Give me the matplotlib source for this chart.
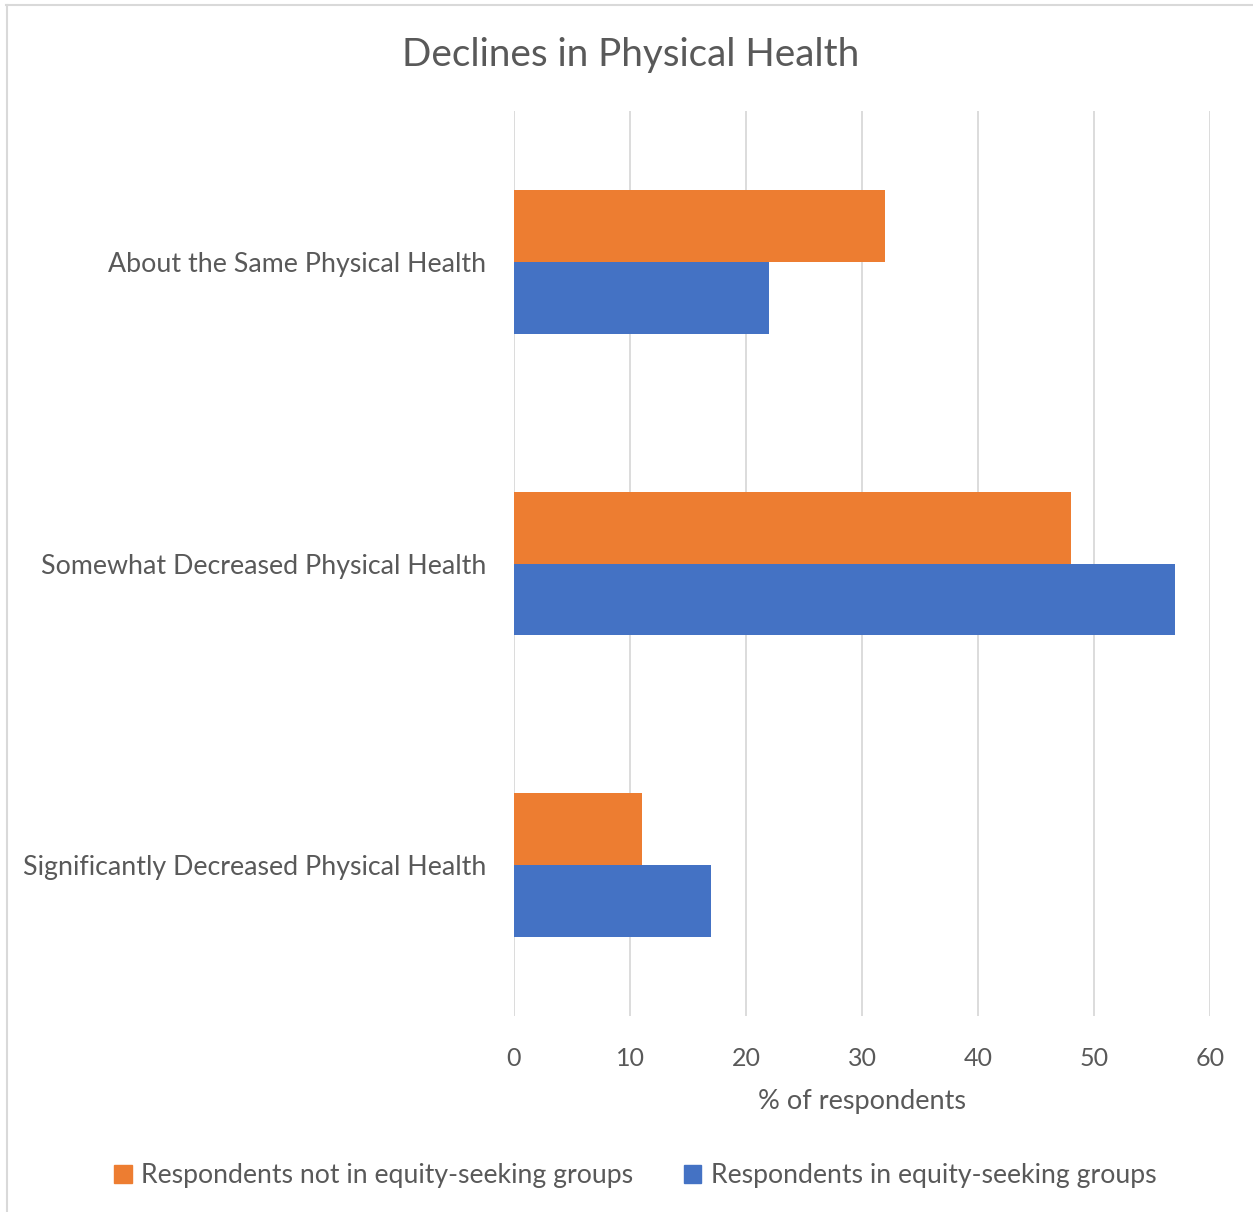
import matplotlib.pyplot as plt
import numpy as np
from matplotlib.patches import Patch

plt.rcParams['font.family'] = ['Lato', 'DejaVu Sans']

categorias = ['About the Same Physical Health',
              'Somewhat Decreased Physical Health',
              'Significantly Decreased Physical Health']
no_equidad = [32, 48, 11]
equidad = [22, 57, 17]
series = ['Respondents not in equity-seeking groups', 'Respondents in equity-seeking groups']

naranja = '#ED7D31'
azul = '#4472C4'
gris = '#595959'

fig = plt.figure(figsize=(12.53, 12.12), dpi=100)
ax = fig.add_axes([0.4102, 0.1617, 0.5555, 0.7467])

y = np.arange(len(categorias))
h = 0.238
ax.barh(y - h / 2, no_equidad, height=h, color=naranja, zorder=3)
ax.barh(y + h / 2, equidad, height=h, color=azul, zorder=3)

ax.set_ylim(2.5, -0.5)
ax.set_xlim(0, 60)
ax.set_xticks(range(0, 61, 10))
ax.set_yticks(y)
ax.set_yticklabels(categorias, fontsize=19.3)
ax.tick_params(axis='both', length=0, labelsize=18, colors=gris)
ax.tick_params(axis='y', pad=20, labelsize=19.3)
ax.tick_params(axis='x', pad=22)
ax.grid(axis='x', color='#d9d9d9', linewidth=1.3, zorder=0)
for s in ax.spines.values():
    s.set_visible(False)

ax.set_xlabel('% of respondents', fontsize=19.5, color=gris, labelpad=14)
fig.text(0.503, 0.955, 'Declines in Physical Health', fontsize=27.8, color=gris,
         ha='center', va='center')

handles = [Patch(color=naranja), Patch(color=azul)]
fig.legend(handles, series, loc='center', bbox_to_anchor=(0.507, 0.030), ncol=2,
           frameon=False, fontsize=19.2, labelcolor=gris, handlelength=0.65,
           handleheight=0.65, handletextpad=0.35, columnspacing=1.9)

# borde del grafico
fig.add_artist(plt.Line2D([0.005, 1], [0.9955, 0.9955], color='#d9d9d9', linewidth=1.5))
fig.add_artist(plt.Line2D([0.0055, 0.0055], [0, 0.9955], color='#d9d9d9', linewidth=1.5))

fig.savefig('out.png', dpi=100)
